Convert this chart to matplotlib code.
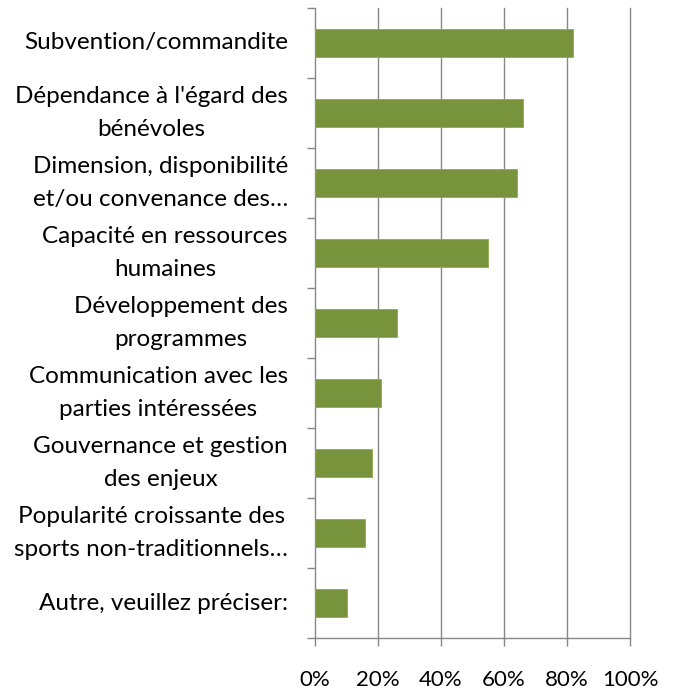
import matplotlib
matplotlib.use("Agg")
import matplotlib.pyplot as plt
from matplotlib.transforms import offset_copy, blended_transform_factory

categories = [
    "Subvention/commandite",
    "Dépendance à l'égard des\nbénévoles",
    "Dimension, disponibilité\net/ou convenance des…",
    "Capacité en ressources\nhumaines",
    "Développement des\nprogrammes",
    "Communication avec les\nparties intéressées",
    "Gouvernance et gestion\ndes enjeux",
    "Popularité croissante des\nsports non-traditionnels…",
    "Autre, veuillez préciser:",
]
values = [82, 66, 64, 55, 26, 21, 18, 16, 10]
xticks = [0, 20, 40, 60, 80, 100]
xticklabels = ["0%", "20%", "40%", "60%", "80%", "100%"]

FONT = "Lato"
FS = 17.5
FS_TICK = 16.0
GRID = "#878787"
BAR = "#77933C"

fig = plt.figure(figsize=(6.76, 6.91), dpi=100)
ax = fig.add_axes([315/676, 53/691, 315/676, 630/691])

ypos = list(range(len(categories)))
ax.barh(ypos, values, height=0.4, color=BAR, edgecolor="#8CAB4E", linewidth=0.6, zorder=3)

ax.set_xlim(0, 100)
ax.set_ylim(len(categories) - 0.5, -0.5)

ax.set_xticks(xticks)
ax.set_xticklabels(xticklabels, fontfamily=FONT, fontsize=FS_TICK)
ax.tick_params(axis="x", length=6, width=1.0, color=GRID, pad=17)
for x in xticks[1:]:
    ax.axvline(x, color=GRID, linewidth=1.0, zorder=1, clip_on=False)

ax.set_yticks([])
ax.set_yticks([i - 0.5 for i in range(len(categories) + 1)], minor=True)
ax.tick_params(axis="y", which="minor", length=6, width=1.0, color=GRID)
ax.tick_params(axis="y", which="major", length=0)

for s in ["top", "right"]:
    ax.spines[s].set_visible(False)
for s in ["left", "bottom"]:
    ax.spines[s].set_color(GRID)
    ax.spines[s].set_linewidth(1.0)

trans = blended_transform_factory(ax.transAxes, ax.transData)
t = offset_copy(trans, fig=fig, x=-27, y=0, units="dots")
for i, lab in enumerate(categories):
    ax.text(0, i, lab, transform=t, ha="right", va="center", multialignment="center",
            fontfamily=FONT, fontsize=FS, color="#000000", linespacing=1.7)

fig.savefig("out.png", dpi=100)
